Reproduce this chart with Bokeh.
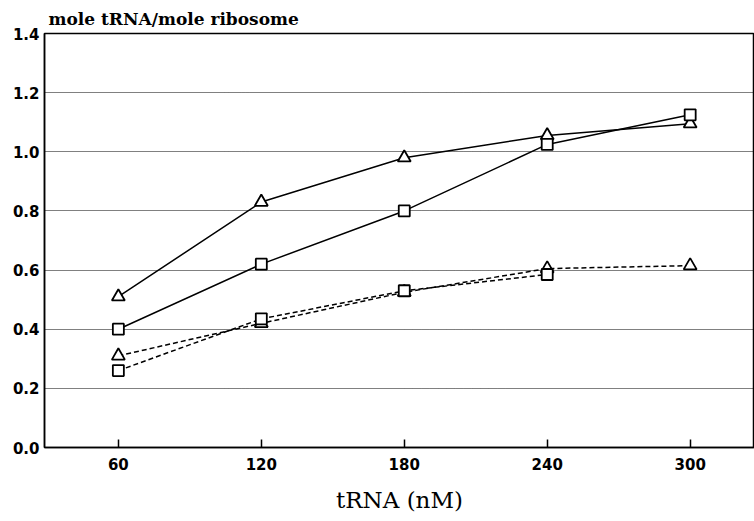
from bokeh.plotting import figure
from bokeh.models import Range1d, FixedTicker, CustomJSTickFormatter
from bokeh.embed import file_html
from bokeh.resources import INLINE

trna = [60, 120, 180, 240, 300]
solid_tri = [0.51, 0.83, 0.98, 1.055, 1.095]
solid_sq = [0.40, 0.62, 0.80, 1.025, 1.125]
dash_tri_x = [60, 120, 180, 240, 300]
dash_tri = [0.31, 0.42, 0.525, 0.605, 0.615]
dash_sq_x = [60, 120, 180, 240]
dash_sq = [0.26, 0.435, 0.53, 0.585]
y_ticks = [0.0, 0.2, 0.4, 0.6, 0.8, 1.0, 1.2, 1.4]

p = figure(width=754, height=521, output_backend="svg", toolbar_location=None,
           x_range=Range1d(29, 327), y_range=Range1d(0, 1.4),
           min_border_left=44, min_border_right=0, min_border_top=33, min_border_bottom=74,
           title="mole tRNA/mole ribosome")

p.title.text_font = "DejaVu Serif"
p.title.text_font_size = "17px"
p.title.text_font_style = "bold"
p.title.text_color = "black"
p.title.offset = 4
p.title.standoff = 9

p.outline_line_color = "black"
p.outline_line_width = 1.5

p.xgrid.grid_line_color = None
p.ygrid.grid_line_color = "black"
p.ygrid.grid_line_dash = "1 1"
p.ygrid.grid_line_width = 1

p.yaxis.ticker = FixedTicker(ticks=y_ticks)
p.yaxis.formatter = CustomJSTickFormatter(code="return tick.toFixed(1);")
p.xaxis.ticker = FixedTicker(ticks=trna)
p.yaxis.minor_tick_line_color = None
p.xaxis.minor_tick_line_color = None
p.yaxis.major_tick_line_color = None
p.yaxis.major_tick_in = 0
p.yaxis.major_tick_out = 0
p.yaxis.minor_tick_in = 0
p.yaxis.minor_tick_out = 0
p.xaxis.minor_tick_in = 0
p.xaxis.minor_tick_out = 0
p.xaxis.major_tick_in = 8
p.xaxis.major_tick_out = 0
p.xaxis.major_tick_line_width = 1.5
for ax in (p.xaxis, p.yaxis):
    ax.axis_line_color = "black"
    ax.axis_line_width = 1.5
    ax.major_label_text_font = "DejaVu Sans"
    ax.major_label_text_font_size = "15px"
    ax.major_label_text_font_style = "bold"
    ax.major_label_text_color = "black"
p.yaxis.major_label_standoff = 5
p.xaxis.major_label_standoff = 10
p.xaxis.axis_label = "tRNA (nM)"
p.xaxis.axis_label_text_font = "DejaVu Serif"
p.xaxis.axis_label_text_font_size = "23px"
p.xaxis.axis_label_text_font_style = "normal"
p.xaxis.axis_label_text_color = "black"
p.xaxis.axis_label_standoff = 14

p.line(trna, solid_tri, line_color="black", line_width=1.5)
p.line(trna, solid_sq, line_color="black", line_width=1.5)
p.line(dash_tri_x, dash_tri, line_color="black", line_width=1.5, line_dash="5 3")
p.line(dash_sq_x, dash_sq, line_color="black", line_width=1.5, line_dash="5 3")

p.scatter(trna, solid_tri, marker="triangle", size=13, fill_color="white", line_color="black", line_width=1.8)
p.scatter(trna, solid_sq, marker="square", size=11, fill_color="white", line_color="black", line_width=1.8)
p.scatter(dash_tri_x, dash_tri, marker="triangle", size=13, fill_color="white", line_color="black", line_width=1.8)
p.scatter(dash_sq_x, dash_sq, marker="square", size=11, fill_color="white", line_color="black", line_width=1.8)

open("out.html", "w").write(file_html(p, INLINE))
